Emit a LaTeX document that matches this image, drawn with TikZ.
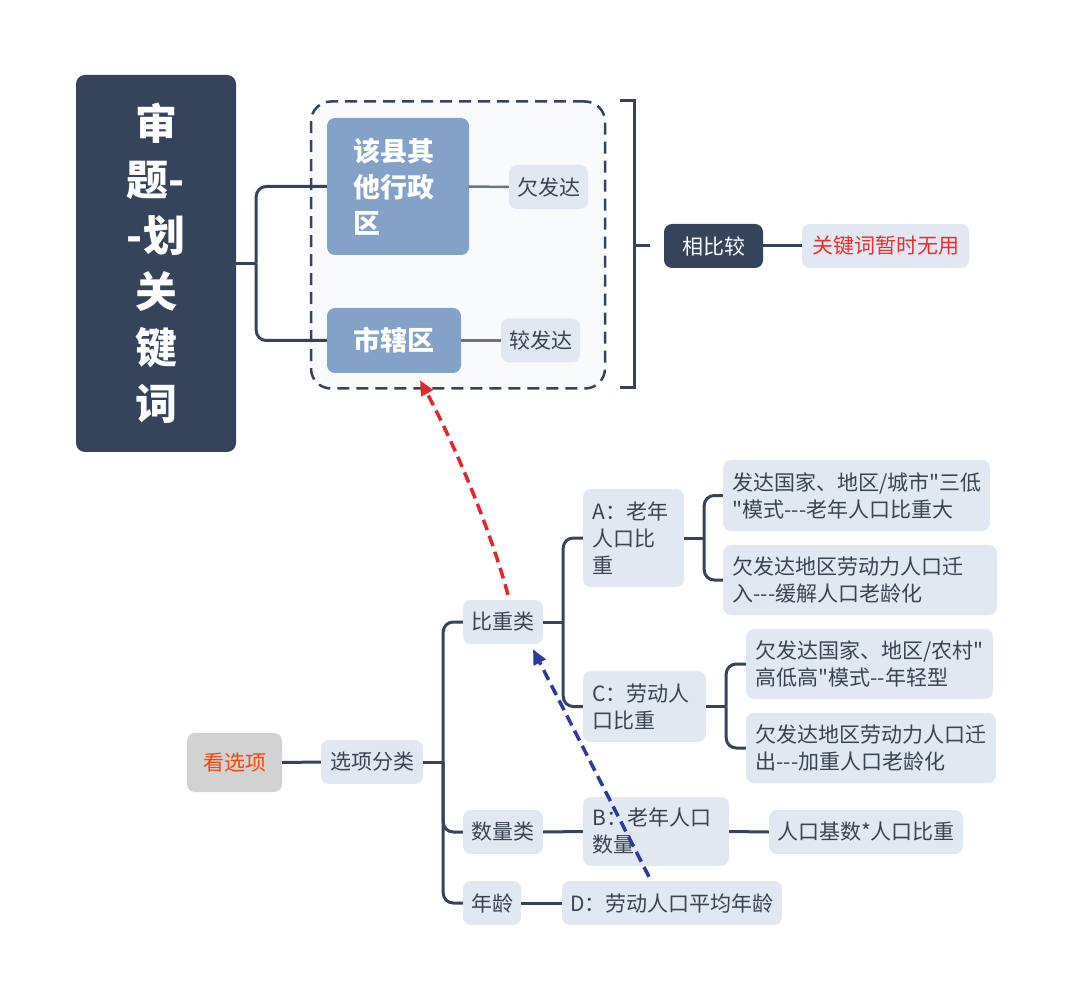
\documentclass[tikz,border=0pt]{standalone}
\usepackage{fontspec}
\newfontfamily\cjk{Noto Sans CJK SC}
\usepackage{xcolor}
\usetikzlibrary{arrows.meta}

\definecolor{navy}{HTML}{35445A}
\definecolor{keyblue}{HTML}{84A1C8}
\definecolor{leafbg}{HTML}{E2E8F1}
\definecolor{leaftext}{HTML}{3A4352}
\definecolor{grpbg}{HTML}{F8FAFC}
\definecolor{softline}{HTML}{6A7686}
\definecolor{keyred}{HTML}{E8302E}
\definecolor{optred}{HTML}{F2480E}
\definecolor{optgray}{HTML}{D2D2D2}
\definecolor{arrred}{HTML}{E0282C}
\definecolor{arrblue}{HTML}{2E3B9B}

\tikzset{
  leaf/.style={fill=leafbg, text=leaftext, rounded corners=8pt, inner sep=0pt,
    align=left, font=\cjk\fontsize{21}{27}\selectfont},
  multi/.style={text width=#1, inner xsep=9.5pt},
  keybox/.style={fill=keyblue, text=white, rounded corners=8pt, inner sep=0pt,
    align=left, font=\cjk\bfseries\fontsize{27}{36}\selectfont},
  darkbox/.style={fill=navy, text=white, rounded corners=8pt, inner sep=0pt,
    align=center, font=\cjk\fontsize{21}{27}\selectfont},
  conn/.style={draw=navy, line width=3pt, rounded corners=10pt},
  softconn/.style={draw=softline, line width=2.5pt},
  hint/.style={line width=3.5pt, dash pattern=on 11pt off 6pt,
    -{Triangle[length=15pt,width=13pt]}},
}

\begin{document}
\begin{tikzpicture}[x=1pt,y=-1pt]
  \useasboundingbox[fill=white] (0,0) rectangle (1072,1000);
  % title
  \node[darkbox, rounded corners=9pt, minimum width=160pt, minimum height=377pt,
    font=\cjk\bfseries\fontsize{42}{56}\selectfont] (root) at (156,263.5)
    {审\\题-\\-划\\关\\键\\词};
  % grouped regions
  \node[draw=navy, fill=grpbg, line width=2.5pt, dash pattern=on 12pt off 7pt,
    rounded corners=20pt, minimum width=294pt, minimum height=287pt] (grp) at (458,245) {};
  \node[keybox, text width=90pt, inner xsep=26pt, minimum height=137pt] (other) at (398,186.5) {该县其\\他行政\\区};
  \node[keybox, minimum width=134pt, minimum height=65pt] (city) at (394,340.5) {市辖区};
  \node[leaf, minimum width=79pt, minimum height=44pt] (under) at (548.5,187) {欠发达};
  \node[leaf, minimum width=79pt, minimum height=44pt] (devel) at (540.5,340.5) {较发达};
  \draw[conn] (root.east) -- ++(20,0) coordinate (rj);
  \draw[conn] (rj) |- (other.west);
  \draw[conn] (rj) |- (city.west);
  \draw[softconn] (other.east) -- (under.west);
  \draw[softconn] (city.east) -- (devel.west);
  % summary bracket
  \draw[conn, rounded corners=0pt] (620,101) -- (634,101) -- (634,388) -- (620,388);
  \coordinate (brk) at (634,246);
  \node[darkbox, minimum width=99pt, minimum height=44pt] (cmp) at (713.5,246) {相比较};
  \node[leaf, text=keyred, minimum width=167pt, minimum height=44pt] (useless) at (885.5,246) {关键词暂时无用};
  \draw[conn] (brk) -- ([xshift=-14pt]cmp.west);
  \draw[conn] (cmp.east) -- (useless.west);

  % options
  \node[leaf, fill=optgray, text=optred, minimum width=95pt, minimum height=59pt] (look) at (234.5,762.5) {看选项};
  \node[leaf, minimum width=102pt, minimum height=44pt] (cls) at (372,762) {选项分类};
  \node[leaf, minimum width=80pt, minimum height=44pt] (ratio) at (503,622) {比重类};
  \node[leaf, minimum width=80pt, minimum height=44pt] (qty) at (503,832) {数量类};
  \node[leaf, minimum width=58pt, minimum height=44pt] (age) at (492,903) {年龄};
  \node[leaf, multi=82pt, minimum height=98pt] (optA) at (633.5,538) {A：老年\\人口比\\重};
  \node[leaf, multi=104pt, minimum height=71pt] (optC) at (644.5,706.5) {C：劳动人\\口比重};
  \node[leaf, multi=248pt, minimum height=71pt] (a1) at (856.5,495.5) {发达国家、地区/城市"三低\\"模式---老年人口比重大};
  \node[leaf, multi=255pt, minimum height=70pt] (a2) at (860,580) {欠发达地区劳动力人口迁\\入---缓解人口老龄化};
  \node[leaf, multi=228pt, minimum height=70pt] (c1) at (869.5,664) {欠发达国家、地区/农村"\\高低高"模式--年轻型};
  \node[leaf, multi=231pt, minimum height=70pt] (c2) at (871,748) {欠发达地区劳动力人口迁\\出---加重人口老龄化};
  \node[leaf, multi=127pt, minimum height=69pt] (optB) at (656,831.5) {B：老年人口\\数量};
  \node[leaf, minimum width=194pt, minimum height=44pt] (base) at (866,832) {人口基数*人口比重};
  \node[leaf, minimum width=220pt, minimum height=44pt] (optD) at (672,903) {D：劳动人口平均年龄};

  \draw[conn] (look.east) -- (cls.west);
  \draw[conn] (cls.east) -- ++(20,0) coordinate (cj);
  \draw[conn] (cj) |- (ratio.west);
  \draw[conn] (cj) |- (qty.west);
  \draw[conn] (cj) |- (age.west);
  \draw[conn] (ratio.east) -- ++(20,0) coordinate (rtj);
  \draw[conn] (rtj) |- (optA.west);
  \draw[conn] (rtj) |- (optC.west);
  \draw[conn] (optA.east) -- ++(20,0) coordinate (aj);
  \draw[conn] (aj) |- (a1.west);
  \draw[conn] (aj) |- (a2.west);
  \draw[conn] (optC.east) -- ++(20,0) coordinate (cj2);
  \draw[conn] (cj2) |- (c1.west);
  \draw[conn] (cj2) |- (c2.west);
  \draw[conn] (qty.east) -- (optB.west);
  \draw[conn] (optB.east) -- (base.west);
  \draw[conn] (age.east) -- (optD.west);

  % hint arrows
  \draw[hint, arrred] ([xshift=5pt,yshift=5pt]ratio.north)
    .. controls (486,515) and (448,432) .. ([xshift=26pt,yshift=-7pt]city.south);
  \draw[hint, arrblue] ([xshift=-23pt,yshift=4pt]optD.north) -- ([xshift=30pt,yshift=-5pt]ratio.south);
\end{tikzpicture}
\end{document}
